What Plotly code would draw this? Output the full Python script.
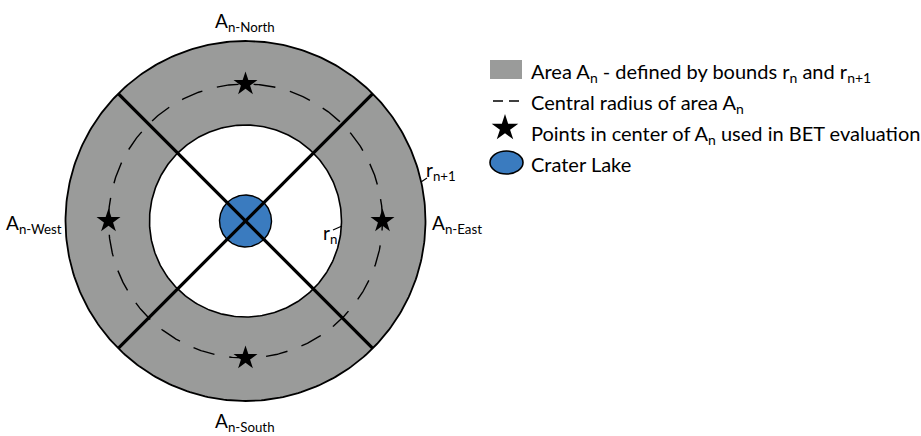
import numpy as np
import plotly.graph_objects as go

# geometry of the diagram (pixel-like units, centre of the crater lake at 0,0)
radius_labels = ["lake", "r_n", "central", "r_n+1"]
radius_values = [26, 96, 137, 180]
star_angles_deg = [90, 0, 270, 180]
divider_angles_deg = [45, 135]
sector_names = ["North", "East", "South", "West"]

legend_texts = [
    "Area A<sub>n</sub> - defined by bounds r<sub>n</sub> and r<sub>n+1</sub>",
    "Central radius of area A<sub>n</sub>",
    "Points in center of A<sub>n</sub> used in BET evaluation",
    "Crater Lake",
]

GRAY = "#9a9b9a"
BLUE = "#3a7bbf"
FONT = "Lato"
W, H = 921, 436
CX, CY = 245.5, 221  # pixel position of the centre


def px(x, y):
    """pixel position -> data coordinates"""
    return x - CX, CY - y


def circle_xy(r, n=361):
    t = np.linspace(0, 2 * np.pi, n)
    return r * np.cos(t), r * np.sin(t)


r_lake, r_in, r_mid, r_out = radius_values

fig = go.Figure()

# grey annulus = grey disc + white inner disc
x, y = circle_xy(r_out)
fig.add_trace(go.Scatter(x=x, y=y, mode="lines", fill="toself", fillcolor=GRAY,
                         line=dict(color="black", width=1.8), hoverinfo="skip"))
x, y = circle_xy(r_in)
fig.add_trace(go.Scatter(x=x, y=y, mode="lines", fill="toself", fillcolor="white",
                         line=dict(color="black", width=1.6), hoverinfo="skip"))

# central radius (dashed)
x, y = circle_xy(r_mid, 721)
fig.add_trace(go.Scatter(x=x, y=y, mode="lines",
                         line=dict(color="black", width=1.4, dash="22px,15px"),
                         hoverinfo="skip"))

# crater lake
x, y = circle_xy(r_lake)
fig.add_trace(go.Scatter(x=x, y=y, mode="lines", fill="toself", fillcolor=BLUE,
                         line=dict(color="black", width=1.4), hoverinfo="skip"))

# sector dividers
for a in divider_angles_deg:
    t = np.deg2rad(a)
    fig.add_trace(go.Scatter(x=[-r_out * np.cos(t), r_out * np.cos(t)],
                             y=[-r_out * np.sin(t), r_out * np.sin(t)],
                             mode="lines", line=dict(color="black", width=3.2),
                             hoverinfo="skip"))

# evaluation points
ang = np.deg2rad(star_angles_deg)
fig.add_trace(go.Scatter(x=r_mid * np.cos(ang), y=r_mid * np.sin(ang), mode="markers",
                         marker=dict(symbol="star", size=18, color="black"),
                         hoverinfo="skip"))

# sector labels
label_pos = {"North": (245, 22), "East": (457, 224), "South": (245, 422), "West": (34, 224)}
for name in sector_names:
    lx, ly = px(*label_pos[name])
    fig.add_annotation(x=lx, y=ly, text=f"A<sub>n-{name}</sub>", showarrow=False,
                       font=dict(family=FONT, size=19, color="black"))

# r_n and r_n+1 labels with small leader lines
fig.add_annotation(x=px(330, 234)[0], y=px(330, 234)[1], text="r<sub>n</sub>",
                   showarrow=False, font=dict(family=FONT, size=19, color="black"))
fig.add_trace(go.Scatter(x=[px(333, 230)[0], px(342, 226)[0]],
                         y=[px(333, 230)[1], px(342, 226)[1]], mode="lines",
                         line=dict(color="black", width=1.2), hoverinfo="skip"))
fig.add_annotation(x=px(441, 171)[0], y=px(441, 171)[1], text="r<sub>n+1</sub>",
                   showarrow=False, font=dict(family=FONT, size=19, color="black"))
fig.add_trace(go.Scatter(x=[px(421, 182)[0], px(427, 178)[0]],
                         y=[px(421, 182)[1], px(427, 178)[1]], mode="lines",
                         line=dict(color="black", width=1.2), hoverinfo="skip"))

# legend (drawn by hand)
rows = [70, 101, 132, 162]
x0, y0 = px(490, rows[0] - 10)
x1, y1 = px(522, rows[0] + 9)
fig.add_shape(type="rect", x0=x0, y0=y0, x1=x1, y1=y1, fillcolor=GRAY, line_width=0)
lx0, ly = px(493, rows[1])
lx1, _ = px(519, rows[1])
fig.add_trace(go.Scatter(x=[lx0, lx1], y=[ly, ly], mode="lines",
                         line=dict(color="black", width=1.6, dash="10px,6px"),
                         hoverinfo="skip"))
sx, sy = px(505, rows[2] - 4)
fig.add_trace(go.Scatter(x=[sx], y=[sy], mode="markers",
                         marker=dict(symbol="star", size=20, color="black"),
                         hoverinfo="skip"))
ex0, ey0 = px(490, rows[3] - 11)
ex1, ey1 = px(523, rows[3] + 12)
fig.add_shape(type="circle", x0=ex0, y0=ey0, x1=ex1, y1=ey1, fillcolor=BLUE,
              line=dict(color="black", width=1.6))
for row, txt in zip(rows, legend_texts):
    tx, ty = px(529, row + 2)
    fig.add_annotation(x=tx, y=ty, text=txt, showarrow=False, xanchor="left",
                       yanchor="middle", font=dict(family=FONT, size=20, color="black"))

fig.update_layout(
    width=W, height=H,
    margin=dict(l=0, r=0, t=0, b=0),
    plot_bgcolor="white", paper_bgcolor="white",
    showlegend=False,
    xaxis=dict(range=[-CX, W - CX], visible=False, fixedrange=True),
    yaxis=dict(range=[CY - H, CY], visible=False, fixedrange=True),
)

# drop the default page margin so the figure sits at the window's top-left corner
fig.write_html("out.html", config={"displayModeBar": False},
               post_script="document.body.style.margin='0';")
